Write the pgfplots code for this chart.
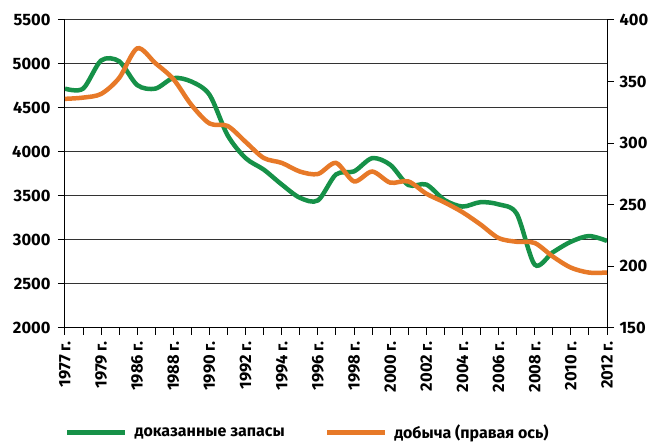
\documentclass[border=0pt]{standalone}
\usepackage{fontspec}
\setmainfont{Fira Sans}
\usepackage{pgfplots}
\pgfplotsset{compat=1.18}
\definecolor{cgreen}{RGB}{22,145,72}
\definecolor{corange}{RGB}{231,121,40}
\pgfplotstableread{
idx green orange
0 4720 336
1 4720 337
2 5040 340
3 5030 353
4 4760 377
5 4720 365
6 4840 352
7 4800 331
8 4650 316
9 4190 314
10 3930 301
11 3800 288
12 3630 284
13 3480 277
14 3450 275
15 3745 284
16 3780 269
17 3930 277
18 3855 268
19 3625 269
20 3630 259
21 3455 252
22 3380 244
23 3430 234
24 3405 223
25 3300 220
26 2720 219
27 2860 208
28 2980 199
29 3045 195
30 2990 195
}\datatable
\begin{document}
\begin{tikzpicture}[font=\bfseries\fontsize{16}{18}\selectfont]
\useasboundingbox (-65pt,-116pt) rectangle (589pt,328pt);
\begin{axis}[
  scale only axis, width=542pt, height=308pt,
  xmin=0, xmax=30, ymin=2000, ymax=5500,
  axis y line*=left, axis x line*=bottom,
  axis line style={black, line width=1pt},
  xtick={0,...,30},
  xticklabels={1977 г.,,1979 г.,,1986 г.,,1988 г.,,1990 г.,,1992 г.,,1994 г.,,1996 г.,,1998 г.,,2000 г.,,2002 г.,,2004 г.,,2006 г.,,2008 г.,,2010 г.,,2012 г.},
  x tick label style={yshift=-3pt, rotate=90, anchor=east, font=\bfseries\fontsize{16.5}{18}\selectfont},
  y tick label style={xshift=-4pt, font=\bfseries\fontsize{16.5}{18}\selectfont},
  ytick={2000,2500,...,5500},
  /pgf/number format/assume math mode=true,
  /pgf/number format/1000 sep={},
  tick align=outside, major tick length=7pt,
  tick style={black, line width=1pt},
  ymajorgrids, grid style={black!80, line width=1pt},
  legend image code/.code={\draw[#1] (0pt,0pt) -- (58pt,0pt);},
  legend style={at={(0,-0.34)}, anchor=west, draw=none, inner sep=0pt,
    legend columns=2, font=\bfseries\fontsize{16}{18}\selectfont,
    /tikz/every odd column/.append style={column sep=5pt},
    /tikz/every even column/.append style={column sep=38pt}},
]
\addplot[cgreen, line width=4.5pt, smooth] table[x=idx, y=green] {\datatable};
\addlegendentry{доказанные запасы}
\addlegendimage{corange, line width=4.5pt}
\addlegendentry{добыча (правая ось)}
\end{axis}
\begin{axis}[
  scale only axis, width=542pt, height=308pt,
  xmin=0, xmax=30, ymin=150, ymax=400,
  axis y line*=right, axis x line=none,
  axis line style={black, line width=1pt},
  ytick={150,200,...,400},
  y tick label style={xshift=2pt, font=\bfseries\fontsize{16.5}{18}\selectfont},
  /pgf/number format/assume math mode=true,
  tick align=outside, major tick length=7pt,
  tick style={black, line width=1pt},
]
\addplot[corange, line width=4.5pt, smooth] table[x=idx, y=orange] {\datatable};
\end{axis}
\end{tikzpicture}
\end{document}
